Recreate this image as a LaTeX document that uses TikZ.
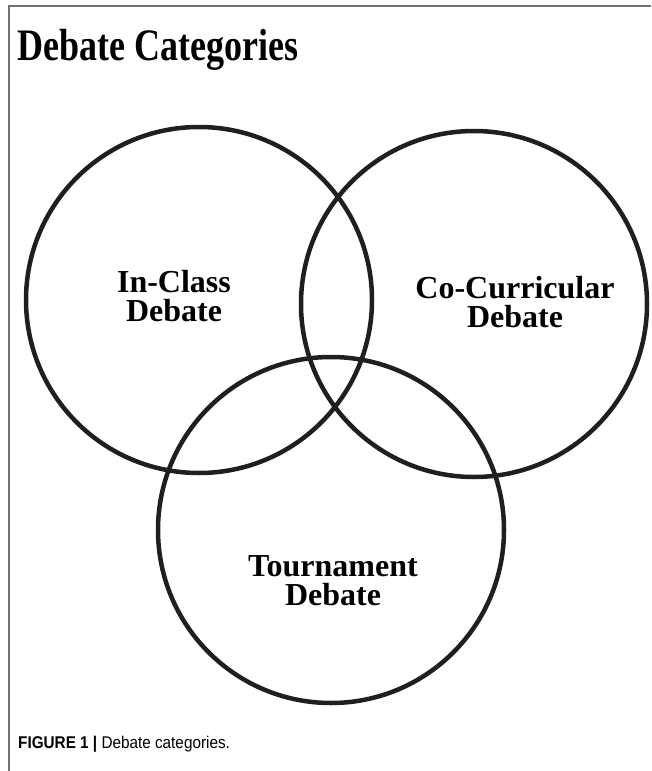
\documentclass[tikz,border=0pt]{standalone}
\usepackage{fontspec}
\setmainfont{Liberation Serif}
\newfontfamily\piefont{Liberation Sans}
\begin{document}
\begin{tikzpicture}[x=1pt,y=-1pt,
    conjunto/.style={draw=black!88,line width=4.5pt,circle,minimum size=346pt,inner sep=0pt},
    etiqueta/.style={font=\fontsize{32}{29}\selectfont\bfseries,align=center}]
    \useasboundingbox (0,0) rectangle (651,771);
    % Marco
    \draw[black!55,line width=1.2pt] (9,771) -- (9,6) -- (651,6);
    % Titulo
    \node[anchor=base west,inner sep=0pt,xscale=0.8,font=\fontsize{45}{46}\selectfont\bfseries] (titulo) at (17,60) {Debate Categories};
    % Circulos
    \node[conjunto] (clase) at (199,300) {};
    \node[conjunto] (cocurr) at (474,304) {};
    \node[conjunto] (torneo) at (331,530) {};
    % Etiquetas
    \node[etiqueta] (lclase) at (174,296) {In-Class\\Debate};
    \node[etiqueta] (lcocurr) at (515,302) {Co-Curricular\\Debate};
    \node[etiqueta] (ltorneo) at (333,581) {Tournament\\Debate};
    % Pie de figura
    \node[anchor=base west,inner sep=0pt,xscale=0.9,font=\piefont\fontsize{17}{18}\selectfont] (pie) at (18,748) {\textbf{FIGURE 1 |} Debate categories.};
\end{tikzpicture}
\end{document}
